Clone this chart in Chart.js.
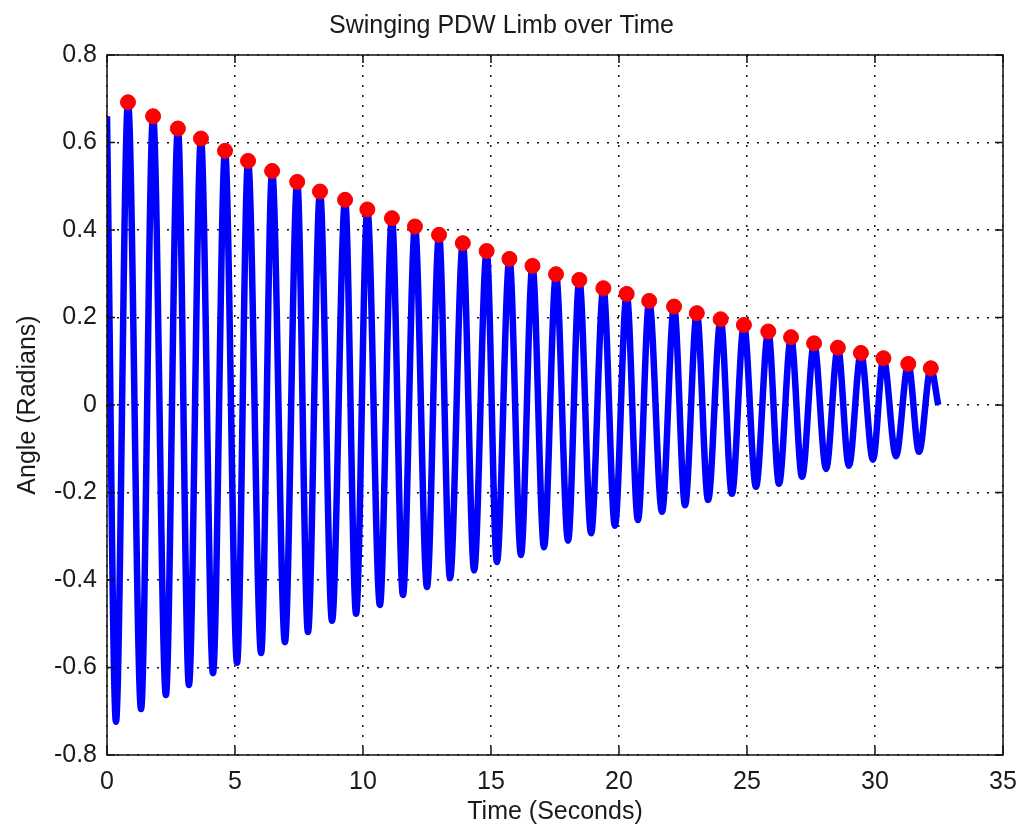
<!DOCTYPE html>
<html>
<head>
<meta charset="utf-8">
<title>Swinging PDW Limb over Time</title>
<script src="https://cdn.jsdelivr.net/npm/chart.js@4/dist/chart.umd.min.js"></script>
<style>
  html, body { margin: 0; padding: 0; background: #fff; }
  #wrap { width: 1017px; height: 836px; }
</style>
</head>
<body>
<div id="wrap"><canvas id="limbChart" width="1017" height="836"></canvas></div>
<script>
// Peaks (red markers)
const peakTimes = [0.82, 1.80, 2.77, 3.67, 4.61, 5.51, 6.45, 7.43, 8.32, 9.30,
    10.17, 11.13, 12.03, 12.97, 13.90, 14.83, 15.72, 16.62, 17.54, 18.45,
    19.39, 20.30, 21.18, 22.15, 23.04, 23.97, 24.88, 25.83, 26.72, 27.62,
    28.55, 29.45, 30.33, 31.30, 32.18];
const peakAngles = [0.692, 0.660, 0.632, 0.609, 0.581, 0.558, 0.535, 0.510, 0.488, 0.469,
    0.447, 0.427, 0.408, 0.389, 0.370, 0.352, 0.334, 0.318, 0.299, 0.286,
    0.267, 0.254, 0.238, 0.225, 0.210, 0.196, 0.183, 0.168, 0.155, 0.141,
    0.131, 0.119, 0.107, 0.094, 0.084];

// Troughs of the swing
const troughTimes = [0.35, 1.33, 2.30, 3.20, 4.14, 5.08, 6.02, 6.95, 7.85, 8.79,
    9.73, 10.66, 11.56, 12.50, 13.40, 14.34, 15.23, 16.17, 17.07, 18.01,
    18.91, 19.84, 20.74, 21.68, 22.58, 23.48, 24.41, 25.35, 26.25, 27.15,
    28.09, 28.98, 29.92, 30.82, 31.72];
const troughAngles = [-0.724, -0.695, -0.663, -0.640, -0.613, -0.589, -0.567, -0.542, -0.519, -0.493,
    -0.477, -0.457, -0.434, -0.416, -0.396, -0.378, -0.359, -0.343, -0.325, -0.310,
    -0.293, -0.276, -0.263, -0.244, -0.229, -0.217, -0.203, -0.187, -0.180, -0.164,
    -0.146, -0.139, -0.125, -0.117, -0.107];

// first and last sample of the trace
const endTimes = [0, 32.47];
const endAngles = [0.66, 0.0];

const xTicks = [0, 5, 10, 15, 20, 25, 30, 35];
const yTicks = [-0.8, -0.6, -0.4, -0.2, 0, 0.2, 0.4, 0.6, 0.8];

// build the swing trace: start, trough/peak pairs, end
let trace = [{ x: endTimes[0], y: endAngles[0] }];
troughTimes.forEach((t, i) => {
    trace.push({ x: t, y: troughAngles[i] });
    trace.push({ x: peakTimes[i], y: peakAngles[i] });
});
trace.push({ x: endTimes[1], y: endAngles[1] });

const peaks = peakTimes.map((t, i) => ({ x: t, y: peakAngles[i] }));

const FONT = 'Liberation Sans, Arial, Helvetica, sans-serif';

// solid box + inward tick marks, like matlab axes
const axesBox = {
    id: 'axesBox',
    afterDraw(chart) {
        const { ctx, chartArea: a, scales } = chart;
        ctx.save();
        ctx.strokeStyle = '#111';
        ctx.lineWidth = 1.5;
        ctx.strokeRect(a.left, a.top, a.right - a.left, a.bottom - a.top);
        const len = 8;
        ctx.beginPath();
        xTicks.forEach(v => {
            const px = scales.x.getPixelForValue(v);
            ctx.moveTo(px, a.bottom); ctx.lineTo(px, a.bottom - len);
            ctx.moveTo(px, a.top); ctx.lineTo(px, a.top + len);
        });
        yTicks.forEach(v => {
            const py = scales.y.getPixelForValue(v);
            ctx.moveTo(a.left, py); ctx.lineTo(a.left + len, py);
            ctx.moveTo(a.right, py); ctx.lineTo(a.right - len, py);
        });
        ctx.stroke();
        ctx.restore();
    }
};

const ctx = document.getElementById('limbChart').getContext('2d');
new Chart(ctx, {
    type: 'scatter',
    data: {
        datasets: [
            {
                label: 'Peaks',
                data: peaks,
                order: 0,
                pointRadius: 7.5,
                pointBackgroundColor: '#ff0000',
                pointBorderColor: '#f20000',
                pointBorderWidth: 1,
                showLine: false
            },
            {
                label: 'Angle',
                data: trace,
                order: 1,
                showLine: true,
                borderColor: '#0000ff',
                borderWidth: 6.5,
                pointRadius: 0,
                cubicInterpolationMode: 'monotone'
            }
        ]
    },
    options: {
        responsive: false,
        animation: false,
        layout: { padding: { left: 0, right: 14, top: 0, bottom: 0 } },
        plugins: {
            legend: { display: false },
            tooltip: { enabled: false },
            title: {
                display: true,
                text: 'Swinging PDW Limb over Time',
                color: '#1a1a1a',
                font: { family: FONT, size: 25, weight: 'normal', lineHeight: 1.2 },
                padding: { top: 11, bottom: 14 }
            }
        },
        scales: {
            x: {
                type: 'linear',
                min: 0,
                max: 35,
                afterBuildTicks: s => { s.ticks = xTicks.map(v => ({ value: v })); },
                afterFit: s => { s.height = 81; s.paddingLeft = 0; s.paddingRight = 0; },
                ticks: {
                    color: '#1a1a1a',
                    padding: 12,
                    maxRotation: 0,
                    font: { family: FONT, size: 25 },
                    callback: v => String(v)
                },
                grid: { color: '#111', lineWidth: 1.5, drawTicks: false },
                border: { display: false, dash: [2, 8] },
                title: {
                    display: true,
                    text: 'Time (Seconds)',
                    color: '#1a1a1a',
                    font: { family: FONT, size: 25 },
                    padding: { top: 0, bottom: 9 }
                }
            },
            y: {
                type: 'linear',
                min: -0.8,
                max: 0.8,
                afterBuildTicks: s => { s.ticks = yTicks.map(v => ({ value: v })); },
                afterFit: s => { s.width = 107; s.paddingTop = 0; s.paddingBottom = 0; },
                ticks: {
                    color: '#1a1a1a',
                    padding: 10,
                    font: { family: FONT, size: 25 },
                    callback: v => String(Math.round(v * 10) / 10)
                },
                grid: { color: '#111', lineWidth: 1.5, drawTicks: false },
                border: { display: false, dash: [2, 8] },
                title: {
                    display: true,
                    text: 'Angle (Radians)',
                    color: '#1a1a1a',
                    font: { family: FONT, size: 25 },
                    padding: { top: 13, bottom: 0 }
                }
            }
        }
    },
    plugins: [axesBox]
});
</script>
</body>
</html>
